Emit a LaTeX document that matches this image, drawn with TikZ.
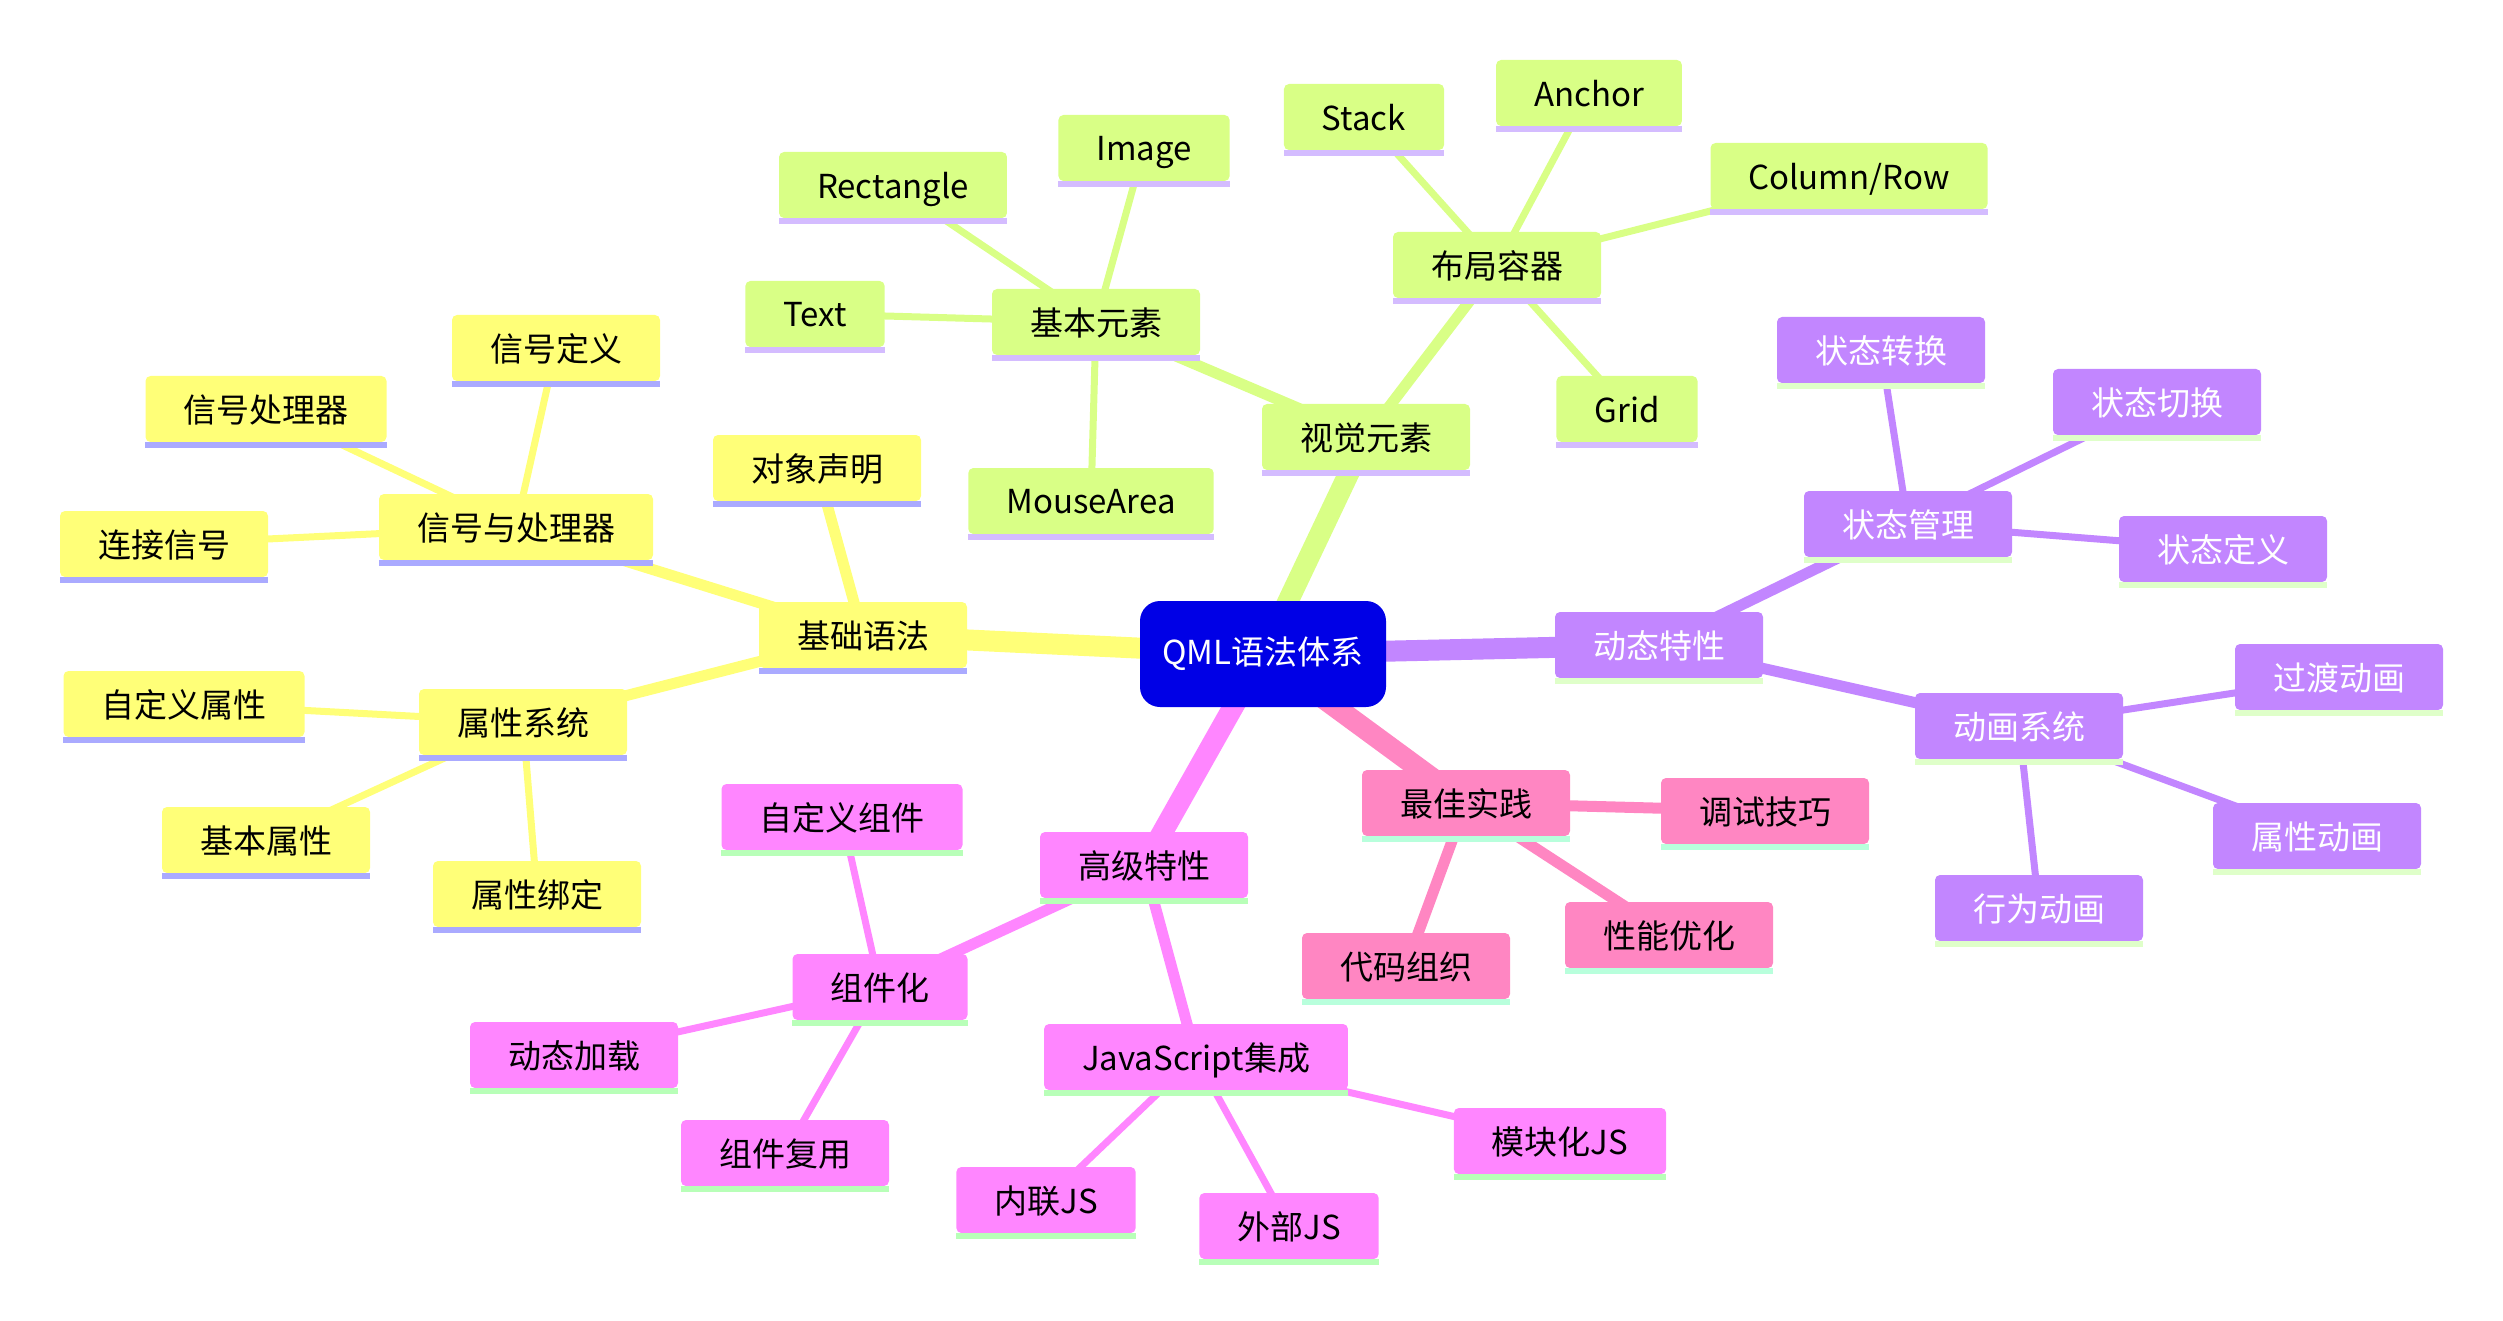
\documentclass[tikz,border=0pt]{standalone}
\usepackage{fontspec}
\setmainfont{Noto Sans CJK SC}
\pgfdeclarelayer{background}
\pgfsetlayers{background,main}
\definecolor{rootc}{HTML}{0000E6}
\definecolor{yelc}{HTML}{FFFF78}
\definecolor{yelb}{HTML}{AAAAFF}
\definecolor{grnc}{HTML}{D9FF86}
\definecolor{grnb}{HTML}{D4BCFF}
\definecolor{purc}{HTML}{C286FF}
\definecolor{purb}{HTML}{DFFFC9}
\definecolor{magc}{HTML}{FF86FF}
\definecolor{magb}{HTML}{B8FFB8}
\definecolor{pnkc}{HTML}{FF86C2}
\definecolor{pnkb}{HTML}{B8FFDC}
\tikzset{
  mmbox/.style={rounded corners=5pt, minimum height=66pt, inner xsep=38pt, inner ysep=0pt,
    font=\fontsize{33}{38}\selectfont, text depth=0pt},
  yel/.style={mmbox, fill=yelc, text=black},
  yelband/.style={fill=yelb},
  grn/.style={mmbox, fill=grnc, text=black},
  grnband/.style={fill=grnb},
  pur/.style={mmbox, fill=purc, text=white},
  purband/.style={fill=purb},
  mag/.style={mmbox, fill=magc, text=black},
  magband/.style={fill=magb},
  pnk/.style={mmbox, fill=pnkc, text=black},
  pnkband/.style={fill=pnkb},
  rootbox/.style={rounded corners=20pt, fill=rootc, text=white, minimum width=246pt,
    minimum height=106pt, font=\fontsize{33}{38}\selectfont},
  ed1/.style={line width=21pt},
  ed2/.style={line width=11pt},
  ed3/.style={line width=7pt},
}
\newcommand{\mmnode}[4]{%
  \node[#1] (#2) at (#3) {#4};
  \fill[#1band] (#2.south west) rectangle ([yshift=-6pt]#2.south east);
}
\begin{document}
\begin{tikzpicture}[x=1pt,y=-1pt]
\useasboundingbox (0,0) rectangle (2503,1321);
\node[rootbox] (root) at (1263,654) {QML语法体系};
% yellow
\mmnode{yel}{jc}{863,635}{基础语法}
\mmnode{yel}{dx}{817,468}{对象声明}
\mmnode{yel}{xh}{516,527}{信号与处理器}
\mmnode{yel}{xhdy}{556,348}{信号定义}
\mmnode{yel}{xhclq}{266,409}{信号处理器}
\mmnode{yel}{ljxh}{164,544}{连接信号}
\mmnode{yel}{sxxt}{523,722}{属性系统}
\mmnode{yel}{zdysx}{184,704}{自定义属性}
\mmnode{yel}{jbsx}{266,840}{基本属性}
\mmnode{yel}{sxbd}{537,894}{属性绑定}
% green
\mmnode{grn}{sj}{1366,437}{视觉元素}
\mmnode{grn}{jbys}{1096,322}{基本元素}
\mmnode{grn}{rect}{893,185}{Rectangle}
\mmnode{grn}{img}{1144,148}{Image}
\mmnode{grn}{txt}{815,314}{Text}
\mmnode{grn}{mouse}{1091,501}{MouseArea}
\mmnode{grn}{bj}{1497,265}{布局容器}
\mmnode{grn}{stack}{1364,117}{Stack}
\mmnode{grn}{anchor}{1589,93}{Anchor}
\mmnode{grn}{colrow}{1849,176}{Column/Row}
\mmnode{grn}{grid}{1627,409}{Grid}
% purple
\mmnode{pur}{dt}{1659,645}{动态特性}
\mmnode{pur}{ztgl}{1908,524}{状态管理}
\mmnode{pur}{ztzh}{1881,350}{状态转换}
\mmnode{pur}{ztqh}{2157,402}{状态切换}
\mmnode{pur}{ztdy}{2223,549}{状态定义}
\mmnode{pur}{dhxt}{2019,726}{动画系统}
\mmnode{pur}{gddh}{2339,677}{过渡动画}
\mmnode{pur}{sxdh}{2317,836}{属性动画}
\mmnode{pur}{xwdh}{2039,908}{行为动画}
% magenta
\mmnode{mag}{gj}{1144,865}{高级特性}
\mmnode{mag}{zjh}{880,987}{组件化}
\mmnode{mag}{zdyzj}{842,817}{自定义组件}
\mmnode{mag}{dtjz}{574,1055}{动态加载}
\mmnode{mag}{zjfy}{785,1153}{组件复用}
\mmnode{mag}{js}{1196,1057}{JavaScript集成}
\mmnode{mag}{nljs}{1046,1200}{内联JS}
\mmnode{mag}{wbjs}{1289,1226}{外部JS}
\mmnode{mag}{mkjs}{1560,1141}{模块化JS}
% pink
\mmnode{pnk}{zj}{1466,803}{最佳实践}
\mmnode{pnk}{tsjq}{1765,811}{调试技巧}
\mmnode{pnk}{xnyh}{1669,935}{性能优化}
\mmnode{pnk}{dmzz}{1406,966}{代码组织}
\begin{pgfonlayer}{background}
% level 1
\draw[ed1, yelc] (root.center) -- (jc.center);
\draw[ed1, grnc] (root.center) -- (sj.center);
\draw[ed1, purc] (root.center) -- (dt.center);
\draw[ed1, magc] (root.center) -- (gj.center);
\draw[ed1, pnkc] (root.center) -- (zj.center);
% yellow
\draw[ed2, yelc] (jc.center) -- (dx.center);
\draw[ed2, yelc] (jc.center) -- (xh.center);
\draw[ed2, yelc] (jc.center) -- (sxxt.center);
\draw[ed3, yelc] (xh.center) -- (xhdy.center);
\draw[ed3, yelc] (xh.center) -- (xhclq.center);
\draw[ed3, yelc] (xh.center) -- (ljxh.center);
\draw[ed3, yelc] (sxxt.center) -- (zdysx.center);
\draw[ed3, yelc] (sxxt.center) -- (jbsx.center);
\draw[ed3, yelc] (sxxt.center) -- (sxbd.center);
% green
\draw[ed2, grnc] (sj.center) -- (jbys.center);
\draw[ed2, grnc] (sj.center) -- (bj.center);
\draw[ed3, grnc] (jbys.center) -- (rect.center);
\draw[ed3, grnc] (jbys.center) -- (img.center);
\draw[ed3, grnc] (jbys.center) -- (txt.center);
\draw[ed3, grnc] (jbys.center) -- (mouse.center);
\draw[ed3, grnc] (bj.center) -- (stack.center);
\draw[ed3, grnc] (bj.center) -- (anchor.center);
\draw[ed3, grnc] (bj.center) -- (colrow.center);
\draw[ed3, grnc] (bj.center) -- (grid.center);
% purple
\draw[ed2, purc] (dt.center) -- (ztgl.center);
\draw[ed2, purc] (dt.center) -- (dhxt.center);
\draw[ed3, purc] (ztgl.center) -- (ztzh.center);
\draw[ed3, purc] (ztgl.center) -- (ztqh.center);
\draw[ed3, purc] (ztgl.center) -- (ztdy.center);
\draw[ed3, purc] (dhxt.center) -- (gddh.center);
\draw[ed3, purc] (dhxt.center) -- (sxdh.center);
\draw[ed3, purc] (dhxt.center) -- (xwdh.center);
% magenta
\draw[ed2, magc] (gj.center) -- (zjh.center);
\draw[ed2, magc] (gj.center) -- (js.center);
\draw[ed3, magc] (zjh.center) -- (zdyzj.center);
\draw[ed3, magc] (zjh.center) -- (dtjz.center);
\draw[ed3, magc] (zjh.center) -- (zjfy.center);
\draw[ed3, magc] (js.center) -- (nljs.center);
\draw[ed3, magc] (js.center) -- (wbjs.center);
\draw[ed3, magc] (js.center) -- (mkjs.center);
% pink
\draw[ed2, pnkc] (zj.center) -- (tsjq.center);
\draw[ed2, pnkc] (zj.center) -- (xnyh.center);
\draw[ed2, pnkc] (zj.center) -- (dmzz.center);
\end{pgfonlayer}
\end{tikzpicture}
\end{document}
